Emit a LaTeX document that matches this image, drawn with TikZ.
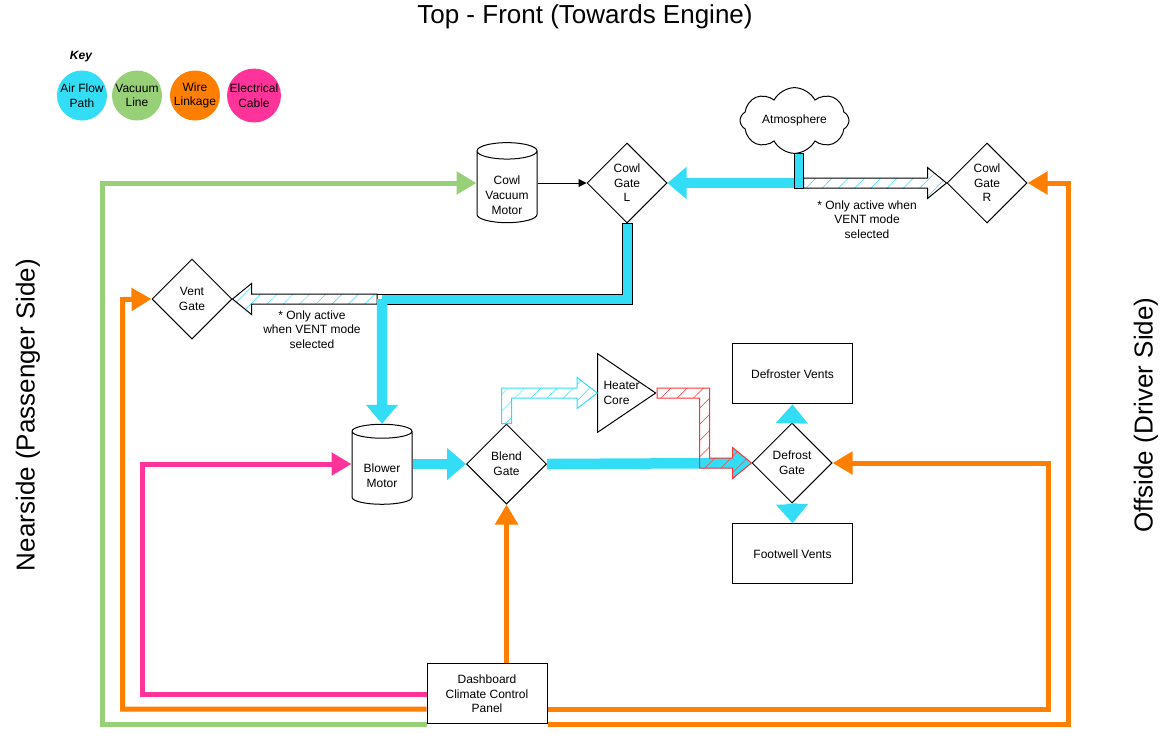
\documentclass[tikz,border=0pt]{standalone}
\usepackage{fontspec}
\setmainfont{Liberation Sans}
\usetikzlibrary{arrows.meta,calc,patterns.meta,shapes.geometric,shapes.symbols}
\definecolor{airblue}{HTML}{33DDF6}
\definecolor{vacgreen}{HTML}{97D077}
\definecolor{wireorange}{HTML}{FF8000}
\definecolor{cablepink}{HTML}{FF3399}
\definecolor{heatred}{HTML}{FF3333}
\tikzset{
    every node/.style={font=\fontsize{12}{14.6}\selectfont, align=center, inner sep=0pt},
    keydot/.style={circle, minimum size=50pt},
    gate/.style={diamond, draw, line width=1pt, minimum size=80pt},
    unit/.style={rectangle, draw, line width=1pt, minimum width=120pt, minimum height=60pt},
    motor/.style={cylinder, draw, line width=1pt, shape border rotate=90, aspect=0.38, minimum width=60pt, minimum height=80pt},
    side/.style={font=\fontsize{26}{30}\selectfont},
    airflow/.style={line width=10.5pt, color=airblue, -{Triangle[length=19pt,width=31pt]}},
    airduct/.style={line width=10.5pt, color=airblue},
    linkage/.style={line width=5pt, -{Triangle[length=20pt,width=22pt]}},
    hatched/.style={line width=1pt, draw=#1, pattern={Lines[angle=45,distance=11.5pt,line width=.5pt]}, pattern color=#1},
}
\begin{document}
\begin{tikzpicture}[x=1pt,y=-1pt]
        \useasboundingbox (0,0) rectangle (1169,750);
        \node[side] (top) at (585,17) {Top - Front (Towards Engine)};
        \node[side, rotate=90] (nearside) at (28,415) {Nearside (Passenger Side)};
        \node[side, rotate=90] (offside) at (1146,415) {Offside (Driver Side)};

        \node (key) at (81,56.5) {\bfseries\itshape Key};
        \node[keydot, fill=airblue] (keyair) at (82,95.5) {Air Flow\\Path};
        \node[keydot, fill=vacgreen] (keyvac) at (137,95.5) {Vacuum\\Line};
        \node[keydot, fill=wireorange] (keywire) at (195,95.5) {Wire\\Linkage};
        \node[keydot, fill=cablepink] (keycable) at (254,95.5) {Electrical\\Cable};

        \node[cloud, draw, line width=1pt, cloud puffs=8, cloud puff arc=125, aspect=1.9, minimum width=109pt, minimum height=60pt] (atmos) at (794.5,120.5) {Atmosphere};
        \node[motor] (cowlmotor) at (507,187) {\mbox{}\\[10.5pt]Cowl\\Vacuum\\Motor};
        \node[gate] (gateL) at (627,183) {Cowl\\Gate\\L};
        \node[gate] (gateR) at (987,183) {Cowl\\Gate\\R};
        \node[gate] (vent) at (192,299) {Vent\\Gate};
        \node[motor] (blower) at (382,468) {\mbox{}\\[10pt]Blower\\Motor};
        \node[gate] (blend) at (506.5,464) {Blend\\Gate};
        \node[gate] (defrost) at (792,463) {Defrost\\Gate};
        \node[isosceles triangle, isosceles triangle stretches, draw, line width=1pt, minimum width=78.5pt, minimum height=58pt, anchor=apex] (heater) at (657,393) {};
        \node[align=left] (heatertext) at (621.5,393) {Heater\\Core};
        \node[unit] (defroster) at (792.5,373.8) {Defroster Vents};
        \node[unit] (footwell) at (792.5,553.8) {Footwell Vents};
        \node[unit] (dash) at (487,693.8) {Dashboard\\Climate Control\\Panel};

        \node (noteR) at (867,219.5) {* Only active when\\VENT mode\\selected};
        \node (noteV) at (312,329.5) {* Only active\\when VENT mode\\selected};

        \coordinate (outlet) at ($(atmos.south)+(4.5,0)$);
        \coordinate (junction) at (382,299);

        \draw[linkage, color=vacgreen] (dash.west |- 0,724) -| (102.5,183) -- (cowlmotor.west |- gateL);
        \draw[linkage, color=wireorange] (dash.west |- 0,709) -| (122.5,299.5) -- (vent.west);
        \draw[linkage, color=cablepink] (dash.west |- 0,694) -| (142.5,464) -- (blower.west |- blend);
        \draw[linkage, color=wireorange] (dash.east |- 0,709) -| (1048,463) -- (defrost.east);
        \draw[linkage, color=wireorange] (dash.east |- 0,724) -| (1068,183) -- (gateR.east);
        \draw[linkage, color=wireorange] (dash.north -| blend) -- (blend.south);
        \draw[line width=1pt, -{Triangle[length=8pt,width=8pt]}] (cowlmotor.east |- gateL) -- (gateL.west);

        \draw[hatched=black, pattern color=airblue] ($(gateL.east)+(136,-5)$) -- ($(gateR.west)+(-19,-5)$) -- ++(0,-10.5) -- (gateR.west) -- ++(-19,15.5) -- ++(0,-10.5) -- ($(gateL.east)+(136,5)$) -- cycle;
        \draw[airflow] (outlet) |- (gateL.east);
        \draw[black, line width=1pt] ($(outlet)+(-5,0)$) rectangle ($(gateL.east)+(136,5)$);

        \draw[airduct] (gateL.south) |- (junction);
        \draw[black, line width=1pt] ($(gateL.south)+(-5,0)$) |- ($(junction)+(-5,-5)$);
        \draw[black, line width=1pt] ($(gateL.south)+(-5,0)$) -- ($(gateL.south)+(5,0)$) |- ($(junction)+(5,5)$);
        \draw[hatched=black, pattern color=airblue] (vent.east) -- ++(19,-15.5) -- ++(0,10.5) -- ($(junction)+(-5,-5)$) -- ($(junction)+(-5,5)$) -- ($(vent.east)+(19,5)$) -- ++(0,10.5) -- cycle;
        \draw[airflow] (junction) -- (blower.north);

        \draw[airflow] (blower.east |- blend) -- (blend.west);
        \draw[airflow] (blend.east) -- (defrost.west);
        \draw[airflow] (defrost.north) -- (defroster.south);
        \draw[airflow] (defrost.south) -- (footwell.north);

        \draw[hatched=airblue] ($(blend.north)+(-5,0)$) |- ($(heater.lower side)+(-20,-5)$) -- ++(0,-10.5) -- (heater.lower side) -- ++(-20,15.5) -- ++(0,-10.5) -| ($(blend.north)+(5,0)$) -- cycle;
        \draw[hatched=heatred] ($(heater.apex)+(0,-5)$) -| ($(defrost.west)+(-42,-5)$) -- ($(defrost.west)+(-19,-5)$) -- ++(0,-10.5) -- (defrost.west) -- ++(-19,15.5) -- ++(0,-10.5) -- ($(defrost.west)+(-52,5)$) |- ($(heater.apex)+(0,5)$) -- cycle;
    \end{tikzpicture}
\end{document}
